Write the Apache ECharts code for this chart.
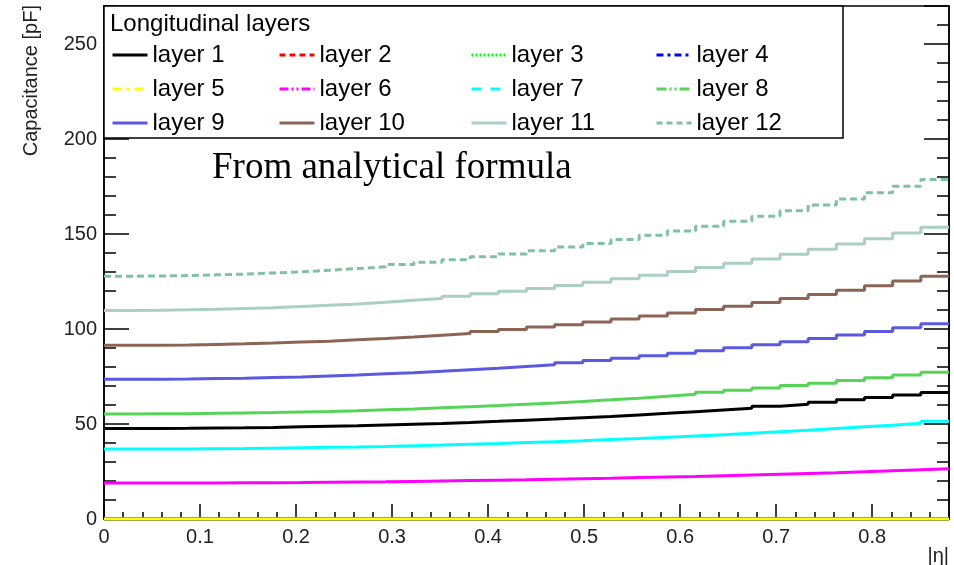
<!DOCTYPE html>
<html>
<head>
<meta charset="utf-8">
<script src="https://cdn.jsdelivr.net/npm/echarts@6/dist/echarts.min.js"></script>
<style>
html, body { margin: 0; padding: 0; background: #fff; }
#chart { width: 954px; height: 565px; }
</style>
</head>
<body>
<div id="chart"></div>
<script>
// bin edges in |eta| (30 bins from 0 to 0.88)
const etaEdges = [0, 0.0293, 0.0587, 0.088, 0.1173, 0.1467, 0.176, 0.2053, 0.2347, 0.264,
    0.2933, 0.3227, 0.352, 0.3813, 0.4107, 0.44, 0.4693, 0.4987, 0.528, 0.5573,
    0.5867, 0.616, 0.6453, 0.6747, 0.704, 0.7333, 0.7627, 0.792, 0.8213, 0.8507, 0.88];

// capacitance per bin [pF]
const layer1 = [47.6, 47.6, 47.7, 47.9, 48.0, 48.2, 48.5, 48.8, 49.1, 49.5,
    49.9, 50.3, 50.8, 51.4, 52.0, 52.6, 53.3, 54.0, 54.8, 55.6,
    56.5, 57.4, 58.3, 59.4, 60.4, 61.5, 62.7, 63.9, 65.2, 66.6];
const layer2 = [0, 0, 0, 0, 0, 0, 0, 0, 0, 0, 0, 0, 0, 0, 0, 0, 0, 0, 0, 0, 0, 0, 0, 0, 0, 0, 0, 0, 0, 0];
const layer3 = [0, 0, 0, 0, 0, 0, 0, 0, 0, 0, 0, 0, 0, 0, 0, 0, 0, 0, 0, 0, 0, 0, 0, 0, 0, 0, 0, 0, 0, 0];
const layer4 = [0, 0, 0, 0, 0, 0, 0, 0, 0, 0, 0, 0, 0, 0, 0, 0, 0, 0, 0, 0, 0, 0, 0, 0, 0, 0, 0, 0, 0, 0];
const layer5 = [0, 0, 0, 0, 0, 0, 0, 0, 0, 0, 0, 0, 0, 0, 0, 0, 0, 0, 0, 0, 0, 0, 0, 0, 0, 0, 0, 0, 0, 0];
const layer6 = [18.9, 18.9, 19.0, 19.0, 19.1, 19.1, 19.2, 19.4, 19.5, 19.6,
    19.8, 20.0, 20.2, 20.4, 20.6, 20.9, 21.2, 21.4, 21.8, 22.1,
    22.4, 22.8, 23.2, 23.6, 24.0, 24.4, 24.9, 25.4, 25.9, 26.4];
const layer7 = [36.8, 36.8, 36.9, 37.0, 37.1, 37.3, 37.5, 37.7, 37.9, 38.2,
    38.6, 38.9, 39.3, 39.7, 40.2, 40.7, 41.2, 41.8, 42.4, 43.0,
    43.7, 44.4, 45.1, 45.9, 46.7, 47.6, 48.5, 49.4, 50.4, 51.5];
const layer8 = [55.3, 55.4, 55.4, 55.6, 55.8, 56.0, 56.3, 56.6, 57.0, 57.5,
    57.9, 58.5, 59.1, 59.7, 60.4, 61.1, 61.9, 62.7, 63.6, 64.6,
    65.6, 66.7, 67.8, 69.0, 70.2, 71.5, 72.9, 74.3, 75.8, 77.3];
const layer9 = [73.5, 73.6, 73.7, 73.9, 74.1, 74.5, 74.8, 75.3, 75.8, 76.4,
    77.0, 77.7, 78.5, 79.3, 80.3, 81.2, 82.3, 83.4, 84.6, 85.9,
    87.2, 88.6, 90.1, 91.7, 93.3, 95.0, 96.8, 98.7, 100.7, 102.8];
const layer10 = [91.4, 91.5, 91.6, 91.9, 92.2, 92.6, 93.1, 93.6, 94.3, 95.0,
    95.8, 96.7, 97.6, 98.7, 99.8, 101.0, 102.3, 103.7, 105.2, 106.8,
    108.4, 110.2, 112.0, 114.0, 116.0, 118.2, 120.4, 122.8, 125.2, 127.8];
const layer11 = [109.8, 109.9, 110.1, 110.4, 110.8, 111.2, 111.8, 112.5, 113.2, 114.1,
    115.1, 116.1, 117.3, 118.5, 119.9, 121.3, 122.9, 124.6, 126.4, 128.3,
    130.3, 132.4, 134.6, 136.9, 139.4, 142.0, 144.7, 147.5, 150.5, 153.5];
const layer12 = [127.8, 127.9, 128.1, 128.5, 128.9, 129.5, 130.1, 130.9, 131.8, 132.8,
    133.9, 135.1, 136.5, 138.0, 139.5, 141.2, 143.1, 145.0, 147.1, 149.3,
    151.6, 154.1, 156.7, 159.4, 162.2, 165.3, 168.4, 171.7, 175.1, 178.7];

const layerNames = ['layer 1', 'layer 2', 'layer 3', 'layer 4', 'layer 5', 'layer 6',
    'layer 7', 'layer 8', 'layer 9', 'layer 10', 'layer 11', 'layer 12'];
const layerData = [layer1, layer2, layer3, layer4, layer5, layer6,
    layer7, layer8, layer9, layer10, layer11, layer12];

const yTicks = [0, 50, 100, 150, 200, 250];
const xTicks = [0, 0.1, 0.2, 0.3, 0.4, 0.5, 0.6, 0.7, 0.8];

// ROOT-like styles: colour, dash in the plot, dash in the legend
const colors = ['#000000', '#ff0000', '#00ff00', '#0000ff', '#ffff00', '#ff00ff',
    '#00ffff', '#55d455', '#5a5ae0', '#8c6455', '#abd0c2', '#80c2a0'];
const plotDash = ['solid', 'solid', 'solid', 'solid', 'solid', 'solid',
    'solid', 'solid', 'solid', 'solid', 'solid', [7, 4]];
const legendDash = ['solid', [6, 4], [2, 2], [7, 4, 3, 4], [9, 5, 3, 5], [9, 3, 2, 3, 2, 3],
    [10, 9], [10, 3, 2, 3, 2, 3], 'solid', 'solid', 'solid', [6, 4]];

const FONT = '"Liberation Sans", Arial, sans-serif';

// histogram as step line: points at left edges + closing point at the last edge
const toSteps = (vals) => {
    const pts = vals.map((v, i) => [etaEdges[i], v]);
    pts.push([etaEdges[etaEdges.length - 1], vals[vals.length - 1]]);
    return pts;
};

const series = layerNames.map((name, i) => ({
    name: name,
    type: 'line',
    step: 'end',
    symbol: 'none',
    clip: false,
    silent: true,
    data: toSteps(layerData[i]),
    lineStyle: { color: colors[i], width: 3, type: plotDash[i] },
    itemStyle: { color: colors[i] },
    emphasis: { disabled: true },
    z: 2 + i * 0.01
}));

// four legend columns, 3 rows each
const legendCols = [[0, 4, 8], [1, 5, 9], [2, 6, 10], [3, 7, 11]];
const legendLeft = [111, 278, 470, 655];
const legends = legendCols.map((col, c) => ({
    orient: 'vertical',
    left: legendLeft[c],
    top: 43,
    padding: 0,
    itemGap: 10,
    itemWidth: 35,
    itemHeight: 14,
    selectedMode: false,
    textStyle: { fontSize: 24, fontFamily: FONT, color: '#000' },
    data: col.map(i => ({
        name: layerNames[i],
        itemStyle: { opacity: 0, borderWidth: 0 },
        lineStyle: { color: colors[i], width: 3, type: legendDash[i] }
    }))
}));

const tickStyle = { color: '#000', width: 1.5 };
const axisCommon = {
    type: 'value',
    splitLine: { show: false },
    minorTick: { show: false }
};

const myChart = echarts.init(document.getElementById('chart'));

const option = {
    animation: false,
    backgroundColor: '#fff',
    grid: {
        left: 104, right: 5, top: 6, bottom: 46,
        show: true, borderColor: '#000', borderWidth: 1.5,
        outerBoundsMode: 'none'
    },
    xAxis: [
        Object.assign({}, axisCommon, {
            min: 0, max: 0.88, interval: 0.1, position: 'bottom',
            axisLine: { show: true, lineStyle: tickStyle },
            axisTick: { show: true, inside: true, length: 15, lineStyle: tickStyle },
            axisLabel: {
                showMaxLabel: false, fontSize: 20, fontFamily: FONT, color: '#222', margin: 8,
                formatter: (v) => {
                    const t = xTicks.find(x => Math.abs(x - v) < 1e-6);
                    return t === undefined ? '' : String(t);
                }
            }
        }),
        Object.assign({}, axisCommon, {
            min: 0, max: 0.88, interval: 0.02, position: 'bottom',
            axisLine: { show: false },
            axisTick: { show: true, inside: true, length: 7, lineStyle: tickStyle },
            axisLabel: { show: false }
        })
    ],
    yAxis: [
        Object.assign({}, axisCommon, {
            min: 0, max: 270, interval: 50, position: 'left',
            axisLine: { show: true, lineStyle: tickStyle },
            axisTick: { show: true, inside: true, length: 25, lineStyle: tickStyle },
            axisLabel: {
                showMaxLabel: false, fontSize: 20, fontFamily: FONT, color: '#222', margin: 7,
                formatter: (v) => (yTicks.indexOf(v) >= 0 ? String(v) : '')
            }
        }),
        Object.assign({}, axisCommon, {
            min: 0, max: 270, interval: 10, position: 'left',
            axisLine: { show: false },
            axisTick: { show: true, inside: true, length: 12, lineStyle: tickStyle },
            axisLabel: { show: false }
        }),
        Object.assign({}, axisCommon, {
            min: 0, max: 270, interval: 50, position: 'right',
            axisLine: { show: true, lineStyle: tickStyle },
            axisTick: { show: true, inside: true, length: 25, lineStyle: tickStyle },
            axisLabel: { show: false }
        }),
        Object.assign({}, axisCommon, {
            min: 0, max: 270, interval: 10, position: 'right',
            axisLine: { show: false },
            axisTick: { show: true, inside: true, length: 12, lineStyle: tickStyle },
            axisLabel: { show: false }
        })
    ],
    legend: legends,
    graphic: [
        {
            type: 'rect', z: 3,
            shape: { x: 104, y: 6, width: 739, height: 132 },
            style: { fill: '#fff', stroke: '#000', lineWidth: 1.5 }
        },
        {
            type: 'text', z: 5, x: 110, y: 24,
            style: {
                text: 'Longitudinal layers', font: '24px ' + FONT, fill: '#000',
                verticalAlign: 'middle', textVerticalAlign: 'middle'
            }
        },
        {
            type: 'text', z: 5, x: 212, y: 168,
            style: {
                text: 'From analytical formula', font: '37px "Liberation Serif", "Times New Roman", serif',
                fill: '#000', verticalAlign: 'middle', textVerticalAlign: 'middle'
            }
        },
        {
            type: 'text', z: 5, x: 41, y: 5, rotation: Math.PI / 2,
            style: {
                text: 'Capacitance [pF]', font: '20px ' + FONT, fill: '#222',
                align: 'right', textAlign: 'right',
                verticalAlign: 'bottom', textVerticalAlign: 'bottom'
            }
        },
        {
            type: 'text', z: 5, x: 949, y: 556,
            style: {
                text: '|η|', font: '20px ' + FONT, fill: '#222',
                align: 'right', textAlign: 'right',
                verticalAlign: 'middle', textVerticalAlign: 'middle'
            }
        }
    ],
    series: series
};

myChart.setOption(option);
</script>
</body>
</html>
